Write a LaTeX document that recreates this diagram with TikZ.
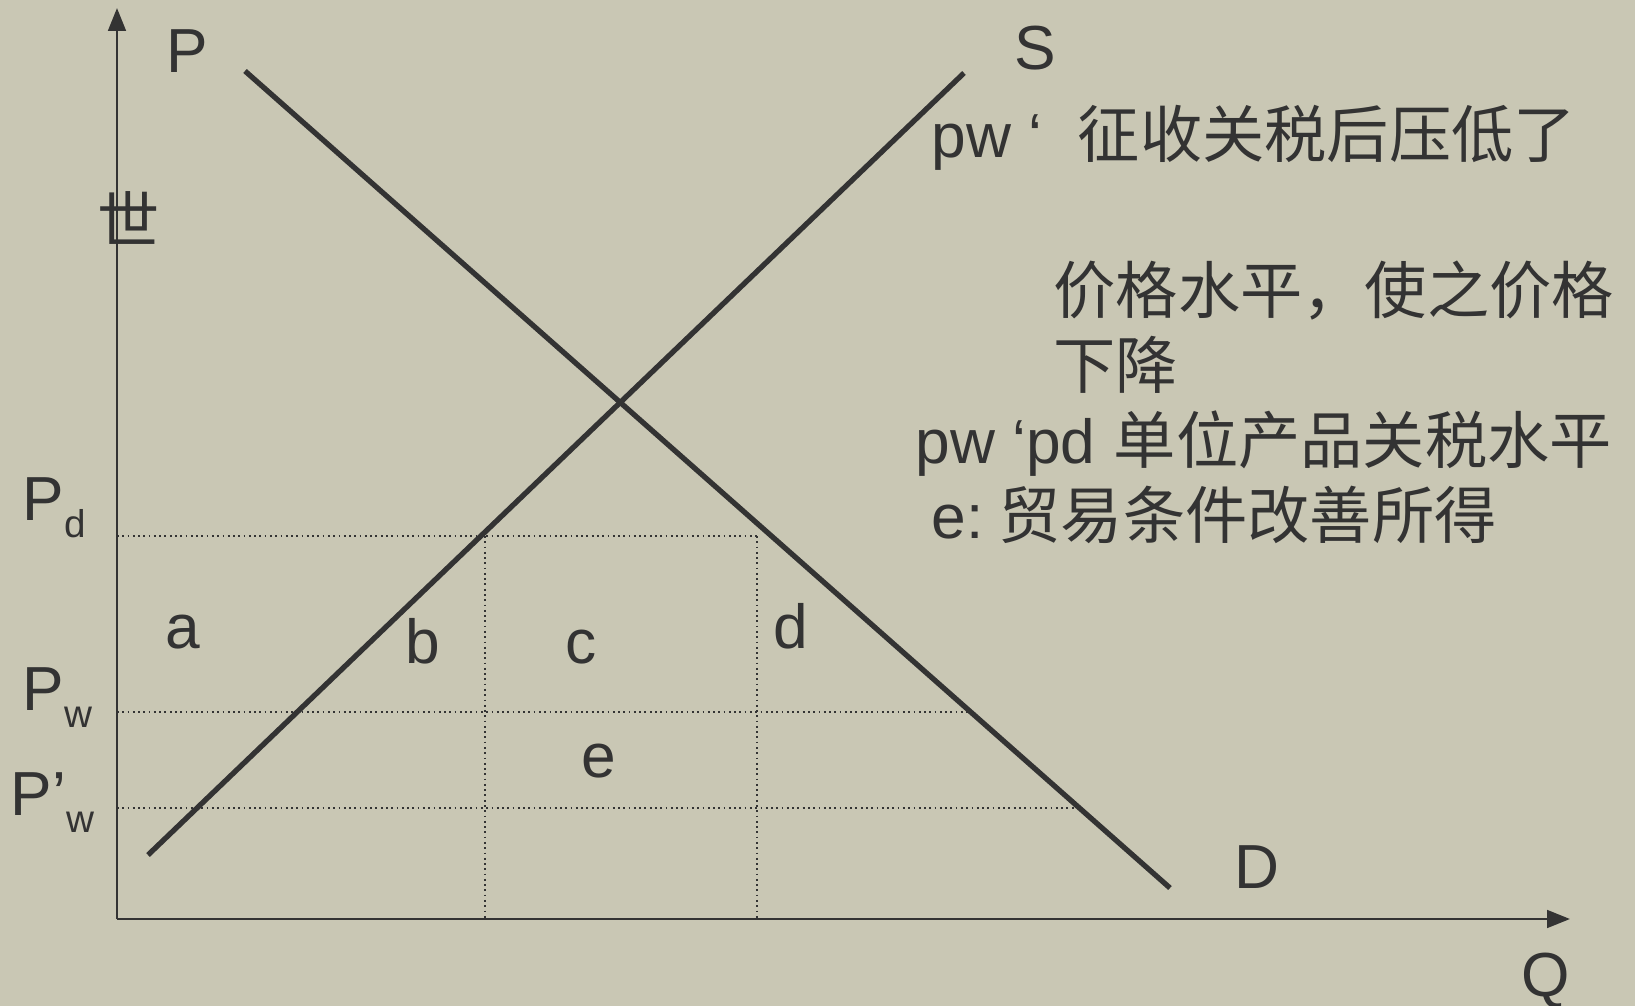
\documentclass[tikz,border=0pt]{standalone}
\usepackage{fontspec}
\setmainfont{Liberation Sans}
\newfontfamily\cjk{Noto Sans CJK SC}
\usetikzlibrary{arrows.meta,positioning}

\definecolor{paper}{RGB}{201,199,180}
\definecolor{ink}{RGB}{51,51,51}
\newcommand{\lowsub}[1]{\raisebox{-5pt}{\fontsize{11}{11}\selectfont #1}}

\begin{document}
\begin{tikzpicture}[x=0.01cm,y=-0.01cm,font=\fontsize{17.7}{21}\selectfont,
  every node/.style={text=ink,inner sep=0pt},
  axis/.style={ink,line width=0.8pt,-{Triangle[length=6.5pt,width=5pt]}},
  curve/.style={ink,line width=1.5pt},
  guide/.style={ink,line width=0.5pt,dash pattern=on 0.5pt off 1pt},
  lbl/.style={anchor=base west}]
  \fill[paper] (0,0) rectangle (1635,1006);
  \useasboundingbox (0,0) rectangle (1635,1006);

  \coordinate (O) at (117,919);
  \coordinate (ytop) at (117,8);
  \coordinate (xend) at (1570,919);
  \coordinate (s0) at (148,855);
  \coordinate (s1) at (964,73);
  \coordinate (d0) at (245,71);
  \coordinate (d1) at (1170,888);
  \coordinate (pd0) at (117,536);
  \coordinate (pd1) at (757,536);
  \coordinate (pw0) at (117,712);
  \coordinate (pw1) at (968,712);
  \coordinate (pv0) at (117,808);
  \coordinate (pv1) at (1079,808);
  \coordinate (qb) at (485,536);
  \coordinate (qb0) at (485,919);
  \coordinate (qc0) at (757,919);

  \draw[guide] (pd0) -- (pd1);
  \draw[guide] (pw0) -- (pw1);
  \draw[guide] (pv0) -- (pv1);
  \draw[guide] (qb) -- (qb0);
  \draw[guide] (pd1) -- (qc0);
  \draw[axis] (O) -- (ytop);
  \draw[axis] (O) -- (xend);
  \draw[curve] (s0) -- (s1);
  \draw[curve] (d0) -- (d1);

  \node[lbl] (Pl) at (166,72) {P};
  \node[lbl] (Sl) at (1014,70) {S};
  \node[lbl] (shi) at (97,243) {\cjk 世};
  \node[lbl] (Dl) at (1234,888) {D};
  \node[lbl] (Ql) at (1521,996) {Q};
  \node[lbl] (Pd) at (22,520) {P\lowsub{d}};
  \node[lbl] (Pw) at (22,710) {P\lowsub{w}};
  \node[lbl] (Pv) at (10,815) {P’\lowsub{w}};
  \node[lbl] (a) at (165,648) {a};
  \node[lbl] (b) at (405,663) {b};
  \node[lbl] (c) at (565,663) {c};
  \node[lbl] (d) at (773,648) {d};
  \node[lbl] (e) at (581,777) {e};

  \node[lbl] (t1) at (931,157) {\makebox[1.46cm][l]{pw ‘}{\cjk 征收关税后压低了}};
  \node[lbl] (t2) at (1053,313) {\cjk 价格水平，使之价格};
  \node[lbl] (t3) at (1053,388) {\cjk 下降};
  \node[lbl] (t4) at (915,463) {\makebox[1.98cm][l]{pw ‘pd}{\cjk 单位产品关税水平}};
  \node[lbl] (t5) at (931,538) {\makebox[0.67cm][l]{e:}{\cjk 贸易条件改善所得}};
\end{tikzpicture}
\end{document}
